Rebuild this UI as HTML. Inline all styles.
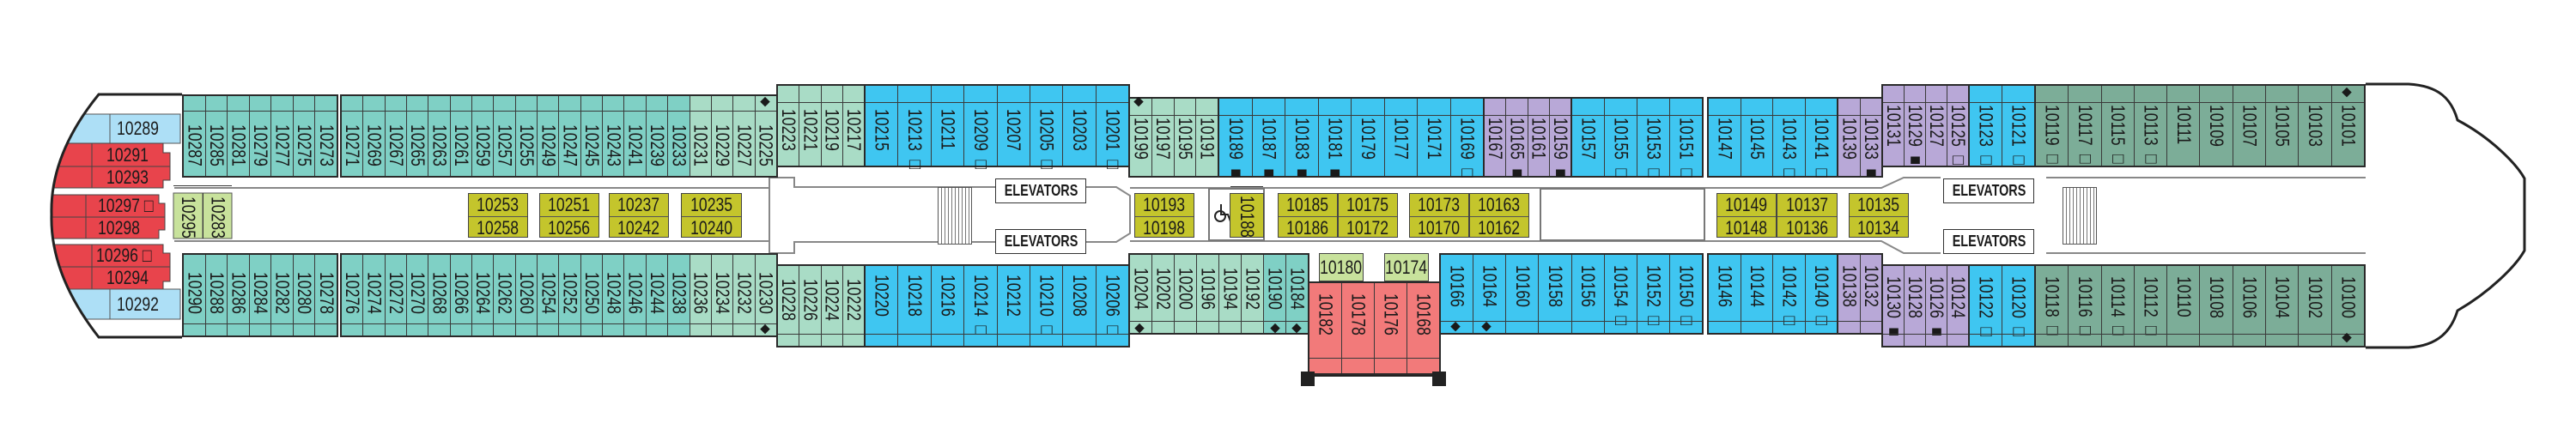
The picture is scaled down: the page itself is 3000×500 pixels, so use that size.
<!DOCTYPE html>
<html><head><meta charset="utf-8"><style>
body{margin:0;width:3000px;height:500px;background:#fff;position:relative;overflow:hidden;font-family:"Liberation Sans",sans-serif;color:#1a1a1a}
.g{position:absolute;display:flex;border:2px solid #2a2a2a;box-sizing:border-box}
.g::after{content:"";position:absolute;left:0;right:0;top:var(--s);border-top:1.5px solid #3a3a3a}
.g>div{flex:1;border-right:1px solid #3a3a3a;position:relative}
.g>div:last-child{border-right:0}
.g i{position:absolute;top:var(--t);left:50%;writing-mode:vertical-rl;font-style:normal;font-size:22px;line-height:22px;transform:translateX(-50%) scaleY(.8);transform-origin:50% 0;white-space:nowrap}
.T{background:#7fd0c5}.L{background:#a9dcc6!important}.B{background:#3fc6f1}.P{background:#b8a8d7}.D{background:#7cad98}.K{background:#f27a7a}
.o{position:absolute;background:#c4c52c;border:1.5px solid #444;box-sizing:border-box;display:flex;flex-direction:column}
.o>div{flex:1;display:flex;align-items:center;justify-content:center;border-bottom:1px solid #555}
.o>div:last-child{border-bottom:0}
.h{font-size:22px;display:inline-block;transform:scaleX(.8);white-space:nowrap}
.el{position:absolute;width:106px;height:29px;border:1.5px solid #333;box-sizing:border-box;background:#fff;display:flex;align-items:center;justify-content:center}
.el span{font-size:18px;font-weight:bold;transform:scaleX(.8);display:inline-block}
.st{position:absolute;width:40px;height:67px;border:1.5px solid #555;box-sizing:border-box;background:repeating-linear-gradient(90deg,#fff 0 3px,#777 3px 4px)}
.dm{position:absolute;font-size:15px;line-height:15px;transform:translate(-50%,-50%)}
.sl{position:absolute;font-size:22px;transform:scaleX(.8);transform-origin:0 50%;white-space:nowrap;line-height:22px}
</style></head><body>

<svg width="3000" height="500" style="position:absolute;left:0;top:0">
<defs><clipPath id="hc"><path d="M212 110 L115 110 Q58 180 60 250 Q58 320 115 393 L212 393 Z"/></clipPath></defs>
<g clip-path="url(#hc)">
<rect x="50" y="133" width="160" height="34" fill="#addff6" stroke="#555"/>
<line x1="128" y1="133" x2="128" y2="167" stroke="#555"/>
<path d="M50 167 H190 V178 H198 V210 H190 V219 H50 Z" fill="#e8444c" stroke="#444"/>
<line x1="50" y1="194" x2="198" y2="194" stroke="#444"/><line x1="107" y1="167" x2="107" y2="219" stroke="#444"/>
<path d="M50 227 H185 V237 H192 V268 H185 V278 H50 Z" fill="#e8444c" stroke="#444"/>
<line x1="50" y1="253" x2="192" y2="253" stroke="#444"/><line x1="100" y1="227" x2="100" y2="278" stroke="#444"/>
<path d="M50 285 H190 V295 H198 V328 H190 V337 H50 Z" fill="#e8444c" stroke="#444"/>
<line x1="50" y1="311" x2="198" y2="311" stroke="#444"/><line x1="107" y1="285" x2="107" y2="337" stroke="#444"/>
<rect x="50" y="337" width="160" height="35" fill="#addff6" stroke="#555"/>
<line x1="128" y1="337" x2="128" y2="372" stroke="#555"/>
</g>
<path d="M212 110 L115 110 Q58 180 60 250 Q58 320 115 393 L212 393" fill="none" stroke="#222" stroke-width="3"/>
<path d="M2755 98 L2805 98 C2840 100 2855 115 2862 140 C2900 160 2930 190 2940 208 L2940 292 C2930 310 2900 340 2862 362 C2855 385 2840 403 2805 405 L2755 405" fill="none" stroke="#222" stroke-width="3"/>
<g stroke="#888" stroke-width="2" fill="none">
<path d="M203 219 H896 M203 281 H896 M896 207 V295 M896 207 H925 V218 H1300 L1316 228 V272 L1300 282 H925 V295 H896"/>
<path d="M1316 219 H1985 M1316 281 H1985"/>
<path d="M1985 219 H2191 L2217 207 H2260 M1985 281 H2191 L2217 295 H2260"/>
<path d="M2383 207 H2755 M2383 295 H2755"/>
<rect x="1408" y="220" width="64" height="60" stroke="#777"/>
<rect x="1794" y="220" width="191" height="60" stroke="#777"/>
</g>
<g stroke="#222" stroke-width="2" fill="none"><circle cx="1421" cy="252" r="6"/><path d="M1422 238 V250 H1430 L1433 258"/></g>
<rect x="202" y="225" width="68" height="53" fill="#c8e29c" stroke="#555"/>
<line x1="236" y1="225" x2="236" y2="278" stroke="#555"/>
</svg>

<div class="sl" style="left:136px;top:139px">10289</div>
<div class="sl" style="left:124px;top:170px">10291</div>
<div class="sl" style="left:124px;top:196px">10293</div>
<div class="sl" style="left:114px;top:229px">10297 □</div>
<div class="sl" style="left:114px;top:255px">10298</div>
<div class="sl" style="left:112px;top:287px">10296 □</div>
<div class="sl" style="left:124px;top:313px">10294</div>
<div class="sl" style="left:136px;top:344px">10292</div>
<div class="g" style="left:202px;top:225px;width:68px;height:53px;border:0;--t:4px;--s:-9px;background:none"><div><i>10295</i></div><div><i>10283</i></div></div>

<div class="g T" style="left:212px;top:110px;width:182px;height:97px;--s:17px;--t:33px"><div><i>10287</i></div><div><i>10285</i></div><div><i>10281</i></div><div><i>10279</i></div><div><i>10277</i></div><div><i>10275</i></div><div><i>10273</i></div></div>
<div class="g T" style="left:396px;top:110px;width:510px;height:97px;--s:17px;--t:33px"><div><i>10271</i></div><div><i>10269</i></div><div><i>10267</i></div><div><i>10265</i></div><div><i>10263</i></div><div><i>10261</i></div><div><i>10259</i></div><div><i>10257</i></div><div><i>10255</i></div><div><i>10249</i></div><div><i>10247</i></div><div><i>10245</i></div><div><i>10243</i></div><div><i>10241</i></div><div><i>10239</i></div><div><i>10233</i></div><div class="L"><i>10231</i></div><div class="L"><i>10229</i></div><div class="L"><i>10227</i></div><div class="L"><i>10225</i></div></div>
<div class="g L" style="left:904px;top:98px;width:104px;height:97px;--s:19px;--t:27px"><div><i>10223</i></div><div><i>10221</i></div><div><i>10219</i></div><div><i>10217</i></div></div>
<div class="g B" style="left:1006px;top:98px;width:310px;height:97px;--s:19px;--t:27px"><div><i>10215</i></div><div><i>10213 □</i></div><div><i>10211</i></div><div><i>10209 □</i></div><div><i>10207</i></div><div><i>10205 □</i></div><div><i>10203</i></div><div><i>10201 □</i></div></div>
<div class="g L" style="left:1314px;top:113px;width:106px;height:94px;--s:19px;--t:22px"><div><i>10199</i></div><div><i>10197</i></div><div><i>10195</i></div><div><i>10191</i></div></div>
<div class="g B" style="left:1418px;top:113px;width:311px;height:94px;--s:19px;--t:22px"><div><i>10189 ■</i></div><div><i>10187 ■</i></div><div><i>10183 ■</i></div><div><i>10181 ■</i></div><div><i>10179</i></div><div><i>10177</i></div><div><i>10171</i></div><div><i>10169 □</i></div></div>
<div class="g P" style="left:1727px;top:113px;width:104px;height:94px;--s:19px;--t:22px"><div><i>10167</i></div><div><i>10165 ■</i></div><div><i>10161</i></div><div><i>10159 ■</i></div></div>
<div class="g B" style="left:1829px;top:113px;width:155px;height:94px;--s:19px;--t:22px"><div><i>10157</i></div><div><i>10155 □</i></div><div><i>10153 □</i></div><div><i>10151 □</i></div></div>
<div class="g B" style="left:1988px;top:113px;width:153px;height:94px;--s:19px;--t:22px"><div><i>10147</i></div><div><i>10145</i></div><div><i>10143 □</i></div><div><i>10141 □</i></div></div>
<div class="g P" style="left:2139px;top:113px;width:54px;height:94px;--s:19px;--t:22px"><div><i>10139</i></div><div><i>10133 ■</i></div></div>
<div class="g P" style="left:2191px;top:98px;width:103px;height:97px;--s:19px;--t:22px"><div><i>10131</i></div><div><i>10129 ■</i></div><div><i>10127</i></div><div><i>10125 □</i></div></div>
<div class="g B" style="left:2292px;top:98px;width:79px;height:97px;--s:19px;--t:22px"><div><i>10123 □</i></div><div><i>10121 □</i></div></div>
<div class="g D" style="left:2369px;top:98px;width:386px;height:97px;--s:19px;--t:22px"><div><i>10119 □</i></div><div><i>10117 □</i></div><div><i>10115 □</i></div><div><i>10113 □</i></div><div><i>10111</i></div><div><i>10109</i></div><div><i>10107</i></div><div><i>10105</i></div><div><i>10103</i></div><div><i>10101</i></div></div>

<div class="g T" style="left:212px;top:295px;width:182px;height:98px;--s:80px;--t:20px"><div><i>10290</i></div><div><i>10288</i></div><div><i>10286</i></div><div><i>10284</i></div><div><i>10282</i></div><div><i>10280</i></div><div><i>10278</i></div></div>
<div class="g T" style="left:396px;top:295px;width:510px;height:98px;--s:80px;--t:20px"><div><i>10276</i></div><div><i>10274</i></div><div><i>10272</i></div><div><i>10270</i></div><div><i>10268</i></div><div><i>10266</i></div><div><i>10264</i></div><div><i>10262</i></div><div><i>10260</i></div><div><i>10254</i></div><div><i>10252</i></div><div><i>10250</i></div><div><i>10248</i></div><div><i>10246</i></div><div><i>10244</i></div><div><i>10238</i></div><div class="L"><i>10236</i></div><div class="L"><i>10234</i></div><div class="L"><i>10232</i></div><div class="L"><i>10230</i></div></div>
<div class="g L" style="left:904px;top:308px;width:104px;height:97px;--s:79px;--t:15px"><div><i>10228</i></div><div><i>10226</i></div><div><i>10224</i></div><div><i>10222</i></div></div>
<div class="g B" style="left:1006px;top:308px;width:310px;height:97px;--s:79px;--t:10px"><div><i>10220</i></div><div><i>10218</i></div><div><i>10216</i></div><div><i>10214 □</i></div><div><i>10212</i></div><div><i>10210 □</i></div><div><i>10208</i></div><div><i>10206 □</i></div></div>
<div class="g L" style="left:1314px;top:295px;width:211px;height:95px;--s:77px;--t:15px"><div><i>10204</i></div><div><i>10202</i></div><div><i>10200</i></div><div><i>10196</i></div><div><i>10194</i></div><div><i>10192</i></div><div class="T"><i>10190</i></div><div class="T"><i>10184</i></div></div>
<div class="g K" style="left:1523px;top:328px;width:155px;height:109px;--s:87px;--t:12px"><div><i>10182</i></div><div><i>10178</i></div><div><i>10176</i></div><div><i>10168</i></div></div>
<div class="g B" style="left:1676px;top:295px;width:308px;height:95px;--s:77px;--t:12px"><div><i>10166</i></div><div><i>10164</i></div><div><i>10160</i></div><div><i>10158</i></div><div><i>10156</i></div><div><i>10154 □</i></div><div><i>10152 □</i></div><div><i>10150 □</i></div></div>
<div class="g B" style="left:1988px;top:295px;width:153px;height:95px;--s:77px;--t:12px"><div><i>10146</i></div><div><i>10144</i></div><div><i>10142 □</i></div><div><i>10140 □</i></div></div>
<div class="g P" style="left:2139px;top:295px;width:54px;height:95px;--s:77px;--t:12px"><div><i>10138</i></div><div><i>10132</i></div></div>
<div class="g P" style="left:2191px;top:308px;width:103px;height:97px;--s:79px;--t:12px"><div><i>10130 ■</i></div><div><i>10128</i></div><div><i>10126 ■</i></div><div><i>10124</i></div></div>
<div class="g B" style="left:2292px;top:308px;width:79px;height:97px;--s:79px;--t:12px"><div><i>10122 □</i></div><div><i>10120 □</i></div></div>
<div class="g D" style="left:2369px;top:308px;width:386px;height:97px;--s:79px;--t:12px"><div><i>10118 □</i></div><div><i>10116 □</i></div><div><i>10114 □</i></div><div><i>10112 □</i></div><div><i>10110</i></div><div><i>10108</i></div><div><i>10106</i></div><div><i>10104</i></div><div><i>10102</i></div><div><i>10100</i></div></div>

<div style="position:absolute;left:1515px;top:433px;width:16px;height:17px;background:#222"></div>
<div style="position:absolute;left:1668px;top:433px;width:16px;height:17px;background:#222"></div>
<div style="position:absolute;left:1531px;top:437px;width:137px;height:2px;background:#222"></div>
<div class="o" style="left:1536px;top:295px;width:52px;height:33px;background:#c8e29c"><div><span class="h">10180</span></div></div>
<div class="o" style="left:1612px;top:295px;width:52px;height:33px;background:#c8e29c"><div><span class="h">10174</span></div></div>

<div class="o" style="left:545px;top:225px;width:70px;height:52px"><div><span class="h">10253</span></div><div><span class="h">10258</span></div></div>
<div class="o" style="left:628px;top:225px;width:70px;height:52px"><div><span class="h">10251</span></div><div><span class="h">10256</span></div></div>
<div class="o" style="left:709px;top:225px;width:70px;height:52px"><div><span class="h">10237</span></div><div><span class="h">10242</span></div></div>
<div class="o" style="left:793px;top:225px;width:71px;height:52px"><div><span class="h">10235</span></div><div><span class="h">10240</span></div></div>
<div class="o" style="left:1321px;top:225px;width:70px;height:52px"><div><span class="h">10193</span></div><div><span class="h">10198</span></div></div>
<div class="g" style="left:1432px;top:225px;width:40px;height:52px;background:#c4c52c;border:1.5px solid #444;--t:2px;--s:-9px"><div><i>10188</i></div></div>
<div class="o" style="left:1488px;top:225px;width:70px;height:52px"><div><span class="h">10185</span></div><div><span class="h">10186</span></div></div>
<div class="o" style="left:1558px;top:225px;width:70px;height:52px"><div><span class="h">10175</span></div><div><span class="h">10172</span></div></div>
<div class="o" style="left:1641px;top:225px;width:70px;height:52px"><div><span class="h">10173</span></div><div><span class="h">10170</span></div></div>
<div class="o" style="left:1711px;top:225px;width:70px;height:52px"><div><span class="h">10163</span></div><div><span class="h">10162</span></div></div>
<div class="o" style="left:1999px;top:225px;width:70px;height:52px"><div><span class="h">10149</span></div><div><span class="h">10148</span></div></div>
<div class="o" style="left:2069px;top:225px;width:71px;height:52px"><div><span class="h">10137</span></div><div><span class="h">10136</span></div></div>
<div class="o" style="left:2153px;top:225px;width:70px;height:52px"><div><span class="h">10135</span></div><div><span class="h">10134</span></div></div>

<div class="el" style="left:1159px;top:208px"><span>ELEVATORS</span></div>
<div class="el" style="left:1159px;top:267px"><span>ELEVATORS</span></div>
<div class="el" style="left:2263px;top:208px"><span>ELEVATORS</span></div>
<div class="el" style="left:2263px;top:267px"><span>ELEVATORS</span></div>
<div class="st" style="left:1092px;top:218px"></div>
<div class="st" style="left:2402px;top:218px"></div>

<div class="dm" style="left:891px;top:118px">◆</div>
<div class="dm" style="left:891px;top:383px">◆</div>
<div class="dm" style="left:1326px;top:118px">◆</div>
<div class="dm" style="left:1327px;top:382px">◆</div>
<div class="dm" style="left:1485px;top:382px">◆</div>
<div class="dm" style="left:1510px;top:382px">◆</div>
<div class="dm" style="left:1695px;top:380px">◆</div>
<div class="dm" style="left:1731px;top:380px">◆</div>
<div class="dm" style="left:2733px;top:107px">◆</div>
<div class="dm" style="left:2733px;top:393px">◆</div>
</body></html>
